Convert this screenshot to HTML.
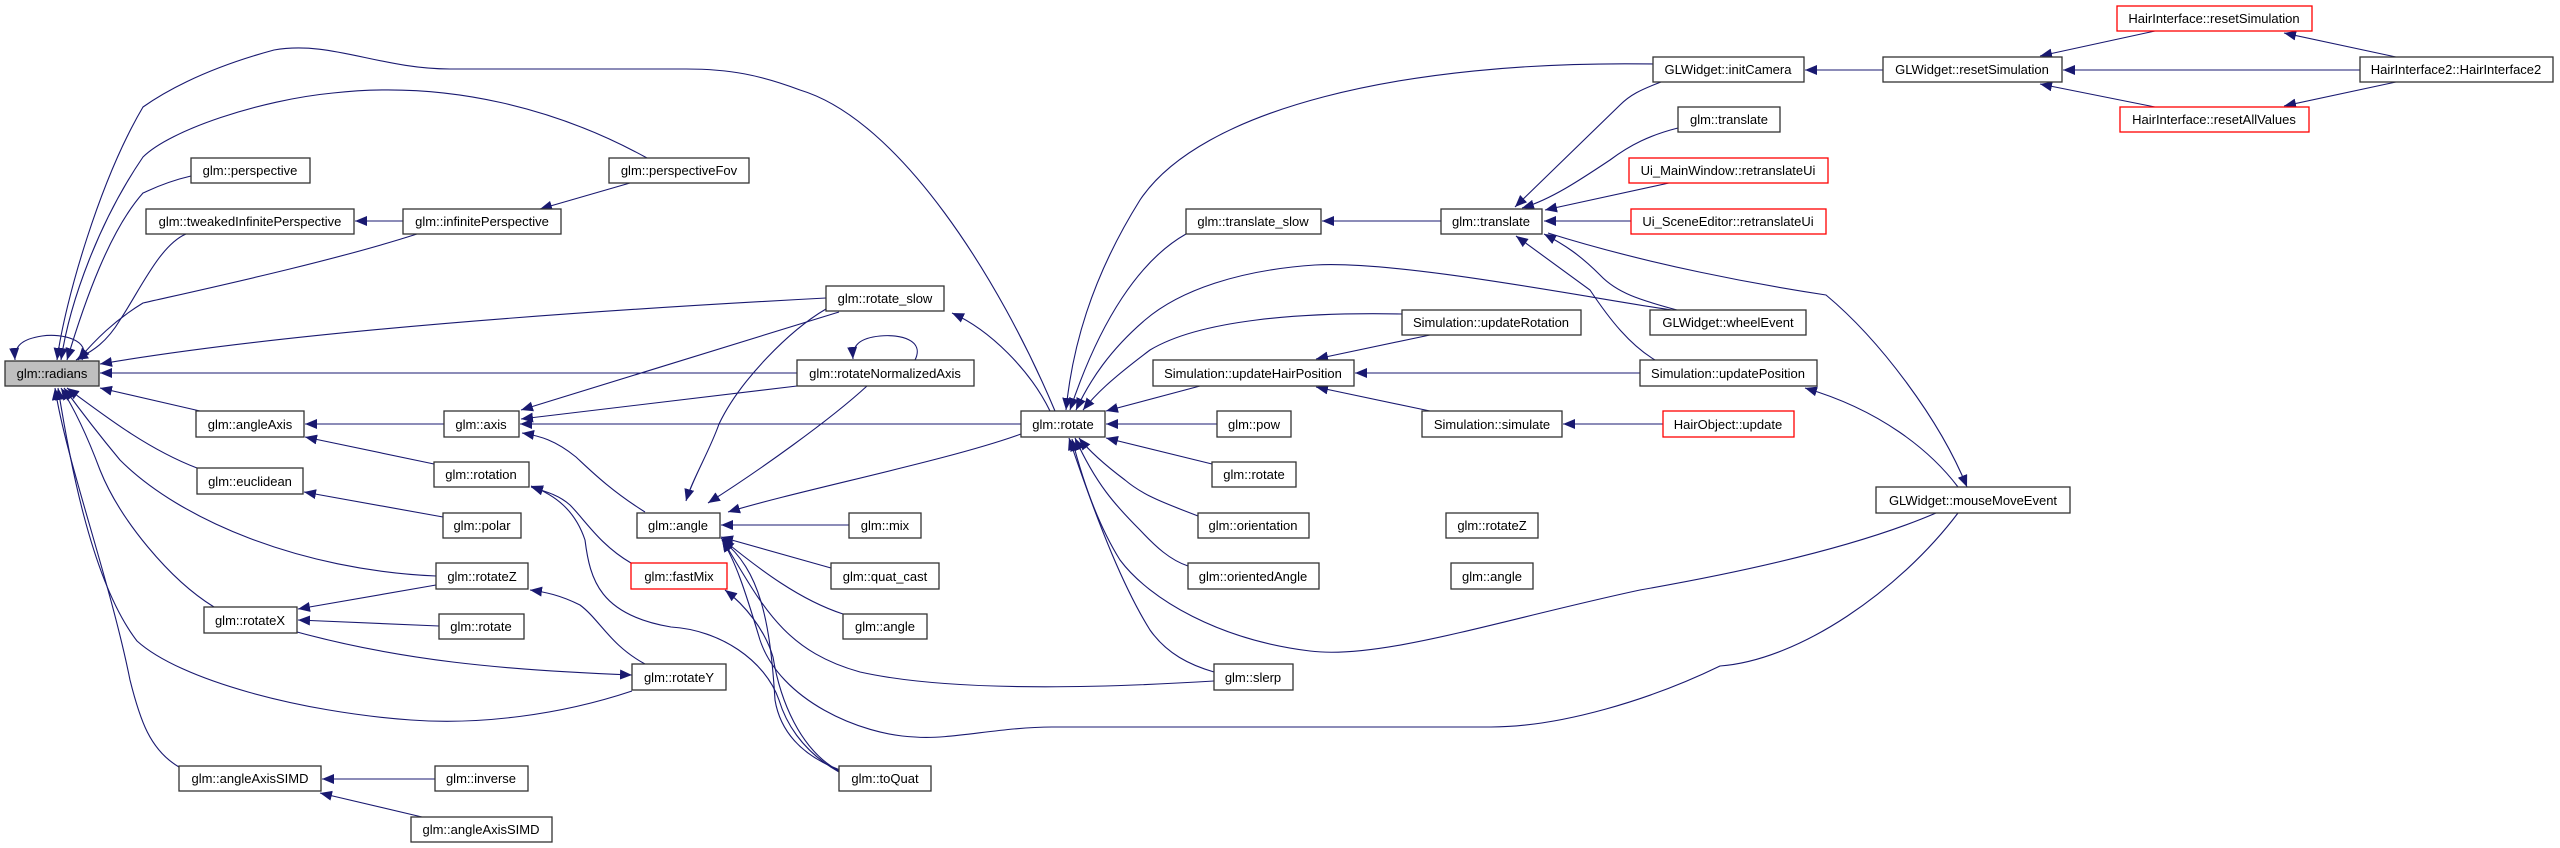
<!DOCTYPE html>
<html><head><meta charset="utf-8"><style>
html,body{margin:0;padding:0;background:#fff;}
svg{display:block;}
text{font-family:"Liberation Sans",sans-serif;font-size:13px;fill:#000;text-anchor:middle;}
.n{fill:#fff;stroke:#333;stroke-width:1.3;}
.r{fill:#fff;stroke:#f00;stroke-width:1.3;}
.g{fill:#bfbfbf;stroke:#333;stroke-width:1.3;}
.e{fill:none;stroke:#191970;stroke-width:1.1;marker-end:url(#a);}
</style></head><body>
<svg width="2560" height="848" viewBox="0 0 2560 848" xmlns="http://www.w3.org/2000/svg">
<defs><marker id="a" markerUnits="userSpaceOnUse" markerWidth="14" markerHeight="12" refX="12" refY="5" orient="auto"><path d="M0,0 L12,5 L0,10 Z" fill="#191970"/></marker></defs>

<!-- edges into radians -->
<path class="e" d="M82,360 C92,340 62,333 42,336 C22,339 14,346 15,360"/>
<path class="e" d="M1055,411 C1000,280 900,120 800,90 C760,75 730,69 686,69 L450,69 C380,69 330,40 274,50 C200,70 160,95 143,107 C100,180 65,300 57,360"/>
<path class="e" d="M647,158 C560,110 450,80 333,93 C260,100 170,130 143,157 C100,220 70,300 61,360"/>
<path class="e" d="M191,176 C165,182 150,190 143,193 C110,230 85,300 67,360"/>
<path class="e" d="M186,234 C160,245 140,290 120,320 C105,345 90,352 76,360"/>
<path class="e" d="M417,234 C330,262 200,290 143,303 C115,320 95,340 78,360"/>
<path class="e" d="M826,298 C600,310 300,330 100,364"/>
<path class="e" d="M797,373 L100,373"/>
<path class="e" d="M200,411 L100,388"/>
<path class="e" d="M197,468 C150,450 110,420 67,388"/>
<path class="e" d="M436,576 C300,570 180,520 120,460 C95,430 80,410 64,388"/>
<path class="e" d="M214,607 C170,580 120,520 100,470 C85,430 72,405 61,388"/>
<path class="e" d="M632,691 C560,715 480,725 411,720 C300,712 180,680 137,641 C90,580 68,450 58,388"/>
<path class="e" d="M179,767 C150,750 140,720 130,680 C110,580 66,460 55,388"/>

<!-- left area -->
<path class="e" d="M444,424 L305,424"/>
<path class="e" d="M434,464 L305,437"/>
<path class="e" d="M443,517 L304,492"/>
<path class="e" d="M839,312 L521,410"/>
<path class="e" d="M797,386 L521,419"/>
<path class="e" d="M1021,424 L520,424"/>
<path class="e" d="M645,512 C610,490 590,470 576,457 C555,440 540,436 522,433"/>
<path class="e" d="M915,360 C925,340 900,334 880,336 C860,338 852,345 853,359"/>
<path class="e" d="M1050,411 C1030,370 990,330 952,313"/>
<path class="e" d="M826,309 C790,330 740,380 719,424 C710,450 692,480 686,501"/>
<path class="e" d="M867,386 C830,420 760,470 708,503"/>
<path class="e" d="M1021,434 C950,460 800,490 728,512"/>
<path class="e" d="M849,525 L721,525"/>
<path class="e" d="M831,568 L721,537"/>
<path class="e" d="M843,614 C800,600 760,570 721,538"/>
<path class="e" d="M1214,681 C1100,688 950,692 860,672 C780,650 760,600 722,539"/>
<path class="e" d="M1958,513 C1900,590 1800,660 1720,666 C1650,700 1560,727 1491,727 L1052,727 C1000,727 950,740 915,737 C860,735 780,700 760,640 C745,590 735,560 722,540"/>
<path class="e" d="M840,770 C800,755 780,730 775,700 C770,620 760,570 722,540"/>
<path class="e" d="M839,771 C800,750 780,700 773,657 C765,630 745,605 725,590"/>
<path class="e" d="M839,772 C800,750 785,720 779,700 C765,660 720,630 671,627 C600,615 590,580 585,540 C575,510 555,495 531,486"/>
<path class="e" d="M631,563 C600,545 585,520 570,505 C560,496 548,492 531,487"/>
<path class="e" d="M436,585 L298,609"/>
<path class="e" d="M439,626 L298,620"/>
<path class="e" d="M297,632 C400,660 500,670 632,675"/>
<path class="e" d="M645,664 C610,645 600,620 580,605 C560,595 545,592 530,590"/>
<path class="e" d="M435,779 L322,779"/>
<path class="e" d="M422,817 L320,793"/>
<path class="e" d="M630,183 L540,209"/>
<path class="e" d="M403,221 L355,221"/>

<!-- rotate edges -->
<path class="e" d="M1186,234 C1140,260 1100,320 1070,410"/>
<path class="e" d="M1653,64 C1400,60 1200,110 1140,200 C1090,280 1072,350 1066,410"/>
<path class="e" d="M1672,310 C1600,300 1400,260 1315,265 C1240,270 1180,290 1145,320 C1110,350 1090,380 1076,410"/>
<path class="e" d="M1402,314 C1300,312 1200,320 1150,350 C1110,380 1095,395 1083,410"/>
<path class="e" d="M1200,386 L1106,411"/>
<path class="e" d="M1217,424 L1106,424"/>
<path class="e" d="M1212,464 L1106,438"/>
<path class="e" d="M1198,516 C1170,505 1145,497 1125,480 C1105,465 1090,452 1079,438"/>
<path class="e" d="M1188,566 C1170,560 1156,547 1140,530 C1115,505 1096,484 1075,438"/>
<path class="e" d="M1214,672 C1190,665 1167,654 1150,630 C1125,590 1100,530 1069,438"/>
<path class="e" d="M1936,513 C1850,550 1720,576 1640,590 C1500,620 1380,660 1310,651 C1220,640 1150,600 1120,560 C1095,520 1080,470 1072,439"/>

<!-- translate edges -->
<path class="e" d="M1441,221 L1322,221"/>
<path class="e" d="M1661,82 C1640,90 1630,95 1620,105 L1515,207"/>
<path class="e" d="M1678,128 C1650,135 1630,145 1610,160 C1580,180 1550,200 1522,208"/>
<path class="e" d="M1669,183 L1545,210"/>
<path class="e" d="M1631,221 L1544,221"/>
<path class="e" d="M1548,233 C1650,265 1760,285 1826,295 C1880,340 1940,420 1967,487"/>
<path class="e" d="M1677,310 C1640,300 1617,293 1600,275 C1580,255 1565,245 1544,234"/>
<path class="e" d="M1655,360 C1630,345 1610,320 1590,290 L1516,236"/>

<!-- simulation -->
<path class="e" d="M1430,335 L1316,359"/>
<path class="e" d="M1640,373 L1355,373"/>
<path class="e" d="M1430,411 L1316,387"/>
<path class="e" d="M1663,424 L1563,424"/>
<path class="e" d="M1958,487 C1930,450 1880,410 1805,388"/>

<!-- right -->
<path class="e" d="M1883,70 L1805,70"/>
<path class="e" d="M2155,31 L2040,56"/>
<path class="e" d="M2360,70 L2063,70"/>
<path class="e" d="M2155,107 L2040,84"/>
<path class="e" d="M2396,57 L2284,33"/>
<path class="e" d="M2396,82 L2284,106"/>

<!-- nodes -->
<rect class="g" x="5" y="361" width="94" height="25"/><text x="52" y="378">glm::radians</text>
<rect class="n" x="191" y="158" width="119" height="25"/><text x="250" y="175">glm::perspective</text>
<rect class="n" x="609" y="158" width="140" height="25"/><text x="679" y="175">glm::perspectiveFov</text>
<rect class="n" x="146" y="209" width="208" height="25"/><text x="250" y="226">glm::tweakedInfinitePerspective</text>
<rect class="n" x="403" y="209" width="158" height="25"/><text x="482" y="226">glm::infinitePerspective</text>
<rect class="n" x="826" y="286" width="118" height="25"/><text x="885" y="303">glm::rotate_slow</text>
<rect class="n" x="797" y="360" width="177" height="26"/><text x="885" y="378">glm::rotateNormalizedAxis</text>
<rect class="n" x="196" y="411" width="108" height="26"/><text x="250" y="429">glm::angleAxis</text>
<rect class="n" x="444" y="411" width="75" height="26"/><text x="481" y="429">glm::axis</text>
<rect class="n" x="197" y="468" width="106" height="26"/><text x="250" y="486">glm::euclidean</text>
<rect class="n" x="434" y="462" width="95" height="25"/><text x="481" y="479">glm::rotation</text>
<rect class="n" x="443" y="513" width="78" height="25"/><text x="482" y="530">glm::polar</text>
<rect class="n" x="637" y="513" width="83" height="25"/><text x="678" y="530">glm::angle</text>
<rect class="r" x="631" y="563" width="96" height="26"/><text x="679" y="581">glm::fastMix</text>
<rect class="n" x="436" y="563" width="92" height="26"/><text x="482" y="581">glm::rotateZ</text>
<rect class="n" x="204" y="607" width="93" height="26"/><text x="250" y="625">glm::rotateX</text>
<rect class="n" x="439" y="614" width="85" height="25"/><text x="481" y="631">glm::rotate</text>
<rect class="n" x="632" y="664" width="94" height="26"/><text x="679" y="682">glm::rotateY</text>
<rect class="n" x="179" y="766" width="142" height="25"/><text x="250" y="783">glm::angleAxisSIMD</text>
<rect class="n" x="435" y="766" width="93" height="25"/><text x="481" y="783">glm::inverse</text>
<rect class="n" x="411" y="817" width="141" height="25"/><text x="481" y="834">glm::angleAxisSIMD</text>
<rect class="n" x="849" y="513" width="72" height="25"/><text x="885" y="530">glm::mix</text>
<rect class="n" x="831" y="563" width="108" height="26"/><text x="885" y="581">glm::quat_cast</text>
<rect class="n" x="843" y="614" width="84" height="25"/><text x="885" y="631">glm::angle</text>
<rect class="n" x="839" y="766" width="92" height="25"/><text x="885" y="783">glm::toQuat</text>
<rect class="n" x="1021" y="411" width="84" height="26"/><text x="1063" y="429">glm::rotate</text>
<rect class="n" x="1186" y="209" width="135" height="25"/><text x="1253" y="226">glm::translate_slow</text>
<rect class="n" x="1441" y="209" width="101" height="25"/><text x="1491" y="226">glm::translate</text>
<rect class="n" x="1402" y="310" width="179" height="25"/><text x="1491" y="327">Simulation::updateRotation</text>
<rect class="n" x="1153" y="360" width="201" height="26"/><text x="1253" y="378">Simulation::updateHairPosition</text>
<rect class="n" x="1217" y="411" width="74" height="26"/><text x="1254" y="429">glm::pow</text>
<rect class="n" x="1422" y="411" width="140" height="26"/><text x="1492" y="429">Simulation::simulate</text>
<rect class="n" x="1212" y="462" width="84" height="25"/><text x="1254" y="479">glm::rotate</text>
<rect class="n" x="1198" y="513" width="111" height="25"/><text x="1253" y="530">glm::orientation</text>
<rect class="n" x="1446" y="513" width="92" height="25"/><text x="1492" y="530">glm::rotateZ</text>
<rect class="n" x="1188" y="563" width="131" height="26"/><text x="1253" y="581">glm::orientedAngle</text>
<rect class="n" x="1451" y="563" width="82" height="26"/><text x="1492" y="581">glm::angle</text>
<rect class="n" x="1214" y="664" width="79" height="26"/><text x="1253" y="682">glm::slerp</text>
<rect class="n" x="1653" y="57" width="151" height="25"/><text x="1728" y="74">GLWidget::initCamera</text>
<rect class="n" x="1678" y="107" width="102" height="25"/><text x="1729" y="124">glm::translate</text>
<rect class="r" x="1629" y="158" width="199" height="25"/><text x="1728" y="175">Ui_MainWindow::retranslateUi</text>
<rect class="r" x="1631" y="209" width="195" height="25"/><text x="1728" y="226">Ui_SceneEditor::retranslateUi</text>
<rect class="n" x="1650" y="310" width="156" height="25"/><text x="1728" y="327">GLWidget::wheelEvent</text>
<rect class="n" x="1640" y="360" width="177" height="26"/><text x="1728" y="378">Simulation::updatePosition</text>
<rect class="r" x="1663" y="411" width="131" height="26"/><text x="1728" y="429">HairObject::update</text>
<rect class="n" x="1883" y="57" width="179" height="25"/><text x="1972" y="74">GLWidget::resetSimulation</text>
<rect class="r" x="2117" y="6" width="195" height="25"/><text x="2214" y="23">HairInterface::resetSimulation</text>
<rect class="n" x="2360" y="57" width="193" height="25"/><text x="2456" y="74">HairInterface2::HairInterface2</text>
<rect class="r" x="2120" y="107" width="189" height="25"/><text x="2214" y="124">HairInterface::resetAllValues</text>
<rect class="n" x="1876" y="487" width="194" height="26"/><text x="1973" y="505">GLWidget::mouseMoveEvent</text>
</svg>
</body></html>
